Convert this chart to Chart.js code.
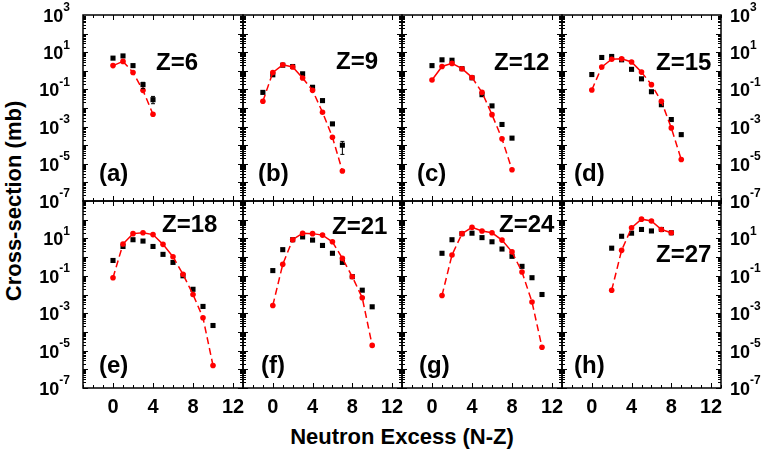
<!DOCTYPE html>
<html>
<head>
<meta charset="utf-8">
<script src="https://cdn.jsdelivr.net/npm/chart.js@4/dist/chart.umd.min.js"></script>
<style>
body{margin:0;background:#fff}
#wrap{position:relative;width:763px;height:460px;overflow:hidden;background:#fff}
#wrap canvas{position:absolute;left:0;top:0}
.ttl{position:absolute;font:bold 22px "Liberation Sans",Arial,sans-serif;white-space:nowrap;color:#000}
</style>
</head>
<body>
<div id="wrap">
  <div class="ttl" style="left:402px;top:437px;transform:translate(-50%,-50%)">Neutron Excess (N-Z)</div>
  <div class="ttl" style="left:14px;top:201px;transform:translate(-50%,-50%) rotate(-90deg)">Cross-section (mb)</div>
</div>
<script>
// panels: Z value and tag
const zValues = [6, 9, 12, 15, 18, 21, 24, 27];
const tags = ["(a)", "(b)", "(c)", "(d)", "(e)", "(f)", "(g)", "(h)"];

// calculation (red, line + circles)
const calcX = [
  [0, 1, 2, 3, 4],
  [-1, 0, 1, 2, 3, 4, 5, 6, 7],
  [0, 1, 2, 3, 4, 5, 6, 7, 8],
  [0, 1, 2, 3, 4, 5, 6, 7, 8, 9],
  [0, 1, 2, 3, 4, 5, 6, 7, 8, 9, 10],
  [0, 1, 2, 3, 4, 5, 6, 7, 8, 9, 10],
  [1, 2, 3, 4, 5, 6, 7, 8, 9, 10, 11],
  [2, 3, 4, 5, 6, 7, 8]
];
const calcY = [
  [1.9, 3.2, 0.81, 0.089, 0.0046],
  [0.023, 0.81, 2.1, 1.6, 0.41, 0.089, 0.0059, 2.7e-4, 4.1e-6],
  [0.32, 1.7, 2.5, 1.3, 0.44, 0.069, 0.0044, 2.2e-4, 4.8e-6],
  [0.093, 1.6, 4.2, 4.4, 3.0, 0.85, 0.18, 0.023, 8.5e-4, 1.7e-5],
  [0.079, 5, 18, 20, 16, 4.8, 1.05, 0.12, 0.010, 5.7e-4, 1.6e-6],
  [0.0026, 0.41, 8.5, 19, 18, 15, 6.6, 0.85, 0.089, 0.0067, 1.9e-5],
  [0.0089, 1.3, 18, 39, 25, 20, 8.1, 1.9, 0.16, 0.004, 1.5e-5],
  [0.017, 2.3, 37, 107, 85, 30, 20]
];

// experiment (black squares)
const expX = [
  [0, 1, 2, 3, 4],
  [-1, 0, 1, 2, 3, 4, 5, 6, 7],
  [0, 1, 2, 3, 4, 5, 6, 7, 8],
  [0, 1, 2, 3, 4, 5, 6, 7, 8, 9],
  [0, 1, 2, 3, 4, 5, 6, 7, 8, 9, 10],
  [0, 1, 2, 3, 4, 5, 6, 7, 8, 9, 10],
  [1, 2, 3, 4, 5, 6, 7, 8, 9, 10, 11],
  [2, 3, 4, 5, 6, 7, 8]
];
const expY = [
  [4.8, 6.3, 1.9, 0.18, 0.028],
  [0.069, 0.61, 2.0, 1.7, 0.69, 0.13, 0.025, 0.0014, 1.0e-4],
  [1.9, 3.9, 3.7, 1.3, 0.42, 0.052, 0.013, 0.0013, 2.4e-4],
  [0.63, 5.2, 5.9, 3.9, 1.2, 0.37, 0.075, 0.015, 0.0024, 3.7e-4],
  [0.66, 3.7, 8.5, 7.2, 3.7, 1.4, 0.52, 0.1, 0.019, 0.0023, 2.2e-4],
  [0.19, 2.5, 8.5, 12, 8.1, 4.2, 1.6, 0.52, 0.09, 0.017, 0.0022],
  [1.6, 8.5, 18, 19, 11, 6.6, 2.7, 1.1, 0.32, 0.079, 0.010],
  [3.0, 13, 19, 30, 25, 30, 20]
];
// error bars on a few experimental points
const errX = [[3, 4], [7], [], [], [], [], [], []];
const errLo = [[0.11, 0.017], [3.2e-5], [], [], [], [], [], []];
const errHi = [[0.24, 0.042], [1.6e-4], [], [], [], [], [], []];

// range of N-Z where the red curve is drawn solid (dashed outside)
const solidRange = [[0, 1], [0, 3], [0, 4], [1, 5], [1, 6], [2, 6], [3, 8], [4, 8]];

// ticks
const xTickLabels = [0, 4, 8, 12];
const yTickExps = [3, 1, -1, -3, -5, -7];

// layout
const colEdges = [83, 243, 402, 562, 721];
const rowEdges = [15, 201, 388];
const zPos = [[73, 48], [93, 47], [92, 48], [94, 48], [79, 24], [89, 26], [97, 24], [94, 54]];
const tagPos = [[16, 159], [15, 159], [15, 159], [12, 159], [16, 165], [18, 165], [17, 165], [12, 165]];
const FONT = '"Liberation Sans", Arial, sans-serif';

function pow10(ctx, e, x, y, align) {
  ctx.font = 'bold 18px ' + FONT;
  const w1 = ctx.measureText('10').width;
  ctx.font = 'bold 12px ' + FONT;
  const w2 = ctx.measureText(String(e)).width;
  let x0 = align === 'right' ? x - w1 - w2 : x;
  ctx.textAlign = 'left';
  ctx.textBaseline = 'middle';
  ctx.font = 'bold 18px ' + FONT;
  ctx.fillText('10', x0, y + 2);
  ctx.font = 'bold 12px ' + FONT;
  ctx.fillText(String(e), x0 + w1, y - 7);
}

const framePlugin = {
  id: 'frame',
  afterDatasetsDraw(chart, args, o) {
    const ctx = chart.ctx, a = chart.chartArea;
    const xs = chart.scales.x, ys = chart.scales.y;
    const i = o.idx, col = i % 4, row = Math.floor(i / 4);
    ctx.save();
    ctx.fillStyle = '#000';
    ctx.strokeStyle = '#000';

    // error bars
    ctx.lineWidth = 1;
    errX[i].forEach((xv, k) => {
      const px = xs.getPixelForValue(xv);
      const lo = ys.getPixelForValue(errLo[i][k]), hi = ys.getPixelForValue(errHi[i][k]);
      ctx.beginPath();
      ctx.moveTo(px, lo); ctx.lineTo(px, hi);
      ctx.moveTo(px - 2, lo); ctx.lineTo(px + 2, lo);
      ctx.moveTo(px - 2, hi); ctx.lineTo(px + 2, hi);
      ctx.stroke();
    });

    // inward ticks
    ctx.lineWidth = 1;
    ctx.beginPath();
    for (let v = -3; v <= 13; v++) {
      const px = Math.round(xs.getPixelForValue(v)) + 0.5;
      const len = v % 4 === 0 ? 5 : 3;
      ctx.moveTo(px, a.bottom); ctx.lineTo(px, a.bottom - len);
      ctx.moveTo(px, a.top); ctx.lineTo(px, a.top + len);
    }
    for (let e = -7; e < 3; e++) {
      for (let m = 1; m <= 9; m++) {
        const py = Math.round(ys.getPixelForValue(m * Math.pow(10, e))) + 0.5;
        const len = m === 1 ? 5 : 3;
        ctx.moveTo(a.left, py); ctx.lineTo(a.left + len, py);
        ctx.moveTo(a.right, py); ctx.lineTo(a.right - len, py);
      }
    }
    ctx.stroke();

    // frame
    ctx.lineWidth = 1.5;
    ctx.strokeRect(a.left, a.top, a.right - a.left, a.bottom - a.top);

    // tick labels
    const exps = row === 0 ? yTickExps : yTickExps.filter(e => e !== 3);
    if (col === 0) exps.forEach(e => pow10(ctx, e, 70, ys.getPixelForValue(Math.pow(10, e)), 'right'));
    if (col === 3) exps.forEach(e => pow10(ctx, e, 730, ys.getPixelForValue(Math.pow(10, e)), 'left'));
    if (row === 1) {
      ctx.font = 'bold 20px ' + FONT;
      ctx.textAlign = 'center';
      ctx.textBaseline = 'middle';
      xTickLabels.forEach(v => ctx.fillText(String(v), xs.getPixelForValue(v), 407));
    }

    // panel labels
    ctx.font = 'bold 24px ' + FONT;
    ctx.textAlign = 'left';
    ctx.textBaseline = 'middle';
    ctx.fillText('Z=' + zValues[i], a.left + zPos[i][0], a.top + zPos[i][1]);
    ctx.fillText(tags[i], a.left + tagPos[i][0], a.top + tagPos[i][1]);
    ctx.restore();
  }
};

const wrap = document.getElementById('wrap');
zValues.forEach((z, i) => {
  const col = i % 4, row = Math.floor(i / 4);
  const cv = document.createElement('canvas');
  cv.width = 763; cv.height = 460;
  wrap.appendChild(cv);
  const [s0, s1] = solidRange[i];
  new Chart(cv, {
    type: 'scatter',
    data: {
      datasets: [{
        label: 'calc',
        data: calcX[i].map((x, k) => ({x: x, y: calcY[i][k]})),
        showLine: true,
        borderColor: '#ff0000',
        backgroundColor: '#ff0000',
        borderWidth: 1.5,
        pointRadius: 2.8,
        pointBorderWidth: 0,
        segment: {
          borderDash: c => (c.p0.parsed.x >= s0 && c.p1.parsed.x <= s1) ? [] : [7, 4]
        },
        order: 0
      }, {
        label: 'exp',
        data: expX[i].map((x, k) => ({x: x, y: expY[i][k]})),
        showLine: false,
        pointStyle: 'rect',
        pointRadius: 3.6,
        pointBorderWidth: 0,
        backgroundColor: '#000',
        borderColor: '#000',
        order: 1
      }]
    },
    options: {
      responsive: false,
      animation: false,
      events: [],
      layout: {
        padding: {
          left: colEdges[col], right: 763 - colEdges[col + 1],
          top: rowEdges[row], bottom: 460 - rowEdges[row + 1]
        }
      },
      scales: {
        x: {type: 'linear', min: -3, max: 13, display: false},
        y: {type: 'logarithmic', min: 1e-7, max: 1e3, display: false}
      },
      plugins: {
        legend: {display: false},
        tooltip: {enabled: false},
        frame: {idx: i}
      }
    },
    plugins: [framePlugin]
  });
});
</script>
</body>
</html>
